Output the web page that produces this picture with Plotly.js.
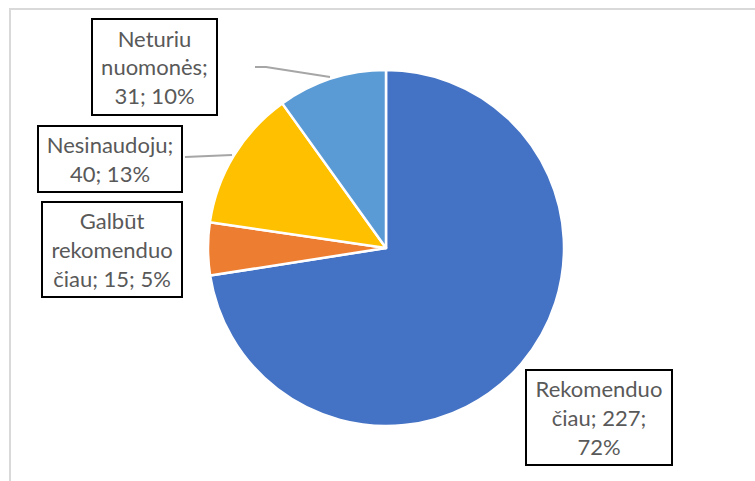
<!DOCTYPE html>
<html>
<head>
<meta charset="utf-8">
<script src="https://cdn.plot.ly/plotly-3.0.1.min.js"></script>
<style>html,body{margin:0;padding:0;background:#fff;}#chart{width:755px;height:481px;}</style>
</head>
<body>
<div id="chart"></div>
<script>
const categories = ["Rekomenduočiau", "Galbūt rekomenduočiau", "Nesinaudoju", "Neturiu nuomonės"];
const values = [227, 15, 40, 31];
const percents = [72, 5, 13, 10];
const labelTexts = [
  "Rekomenduo<br>čiau; 227;<br>72%",
  "Galbūt<br>rekomenduo<br>čiau; 15; 5%",
  "Nesinaudoju;<br>40; 13%",
  "Neturiu<br>nuomonės;<br>31; 10%"
];
const colors = ["#4472C4", "#ED7D31", "#FFC000", "#5B9BD5"];

const W = 755, H = 481;
const px = x => x / W;
const py = y => 1 - y / H;

// label box layout: [centerX, centerY, width, height]
const boxes = [
  [599, 417.5, 148, 97],
  [112, 249.5, 142, 97],
  [110, 159, 146, 68],
  [154.5, 67, 127, 98]
];

const annotations = labelTexts.map((t, i) => ({
  x: px(boxes[i][0]), y: py(boxes[i][1]), xref: 'paper', yref: 'paper',
  xanchor: 'center', yanchor: 'middle', showarrow: false,
  text: t, align: 'center',
  width: boxes[i][2] - 8, height: boxes[i][3] - 8,
  borderpad: 2, borderwidth: 2, bordercolor: '#000000', bgcolor: '#ffffff',
  font: {family: 'Lato, "Liberation Sans", sans-serif', size: 22, color: '#595959'}
}));

const leader = (pts) => ({
  type: 'path', xref: 'paper', yref: 'paper',
  path: 'M' + pts.map(p => px(p[0]) + ',' + py(p[1])).join(' L'),
  line: {color: '#A6A6A6', width: 2}
});

const shapes = [
  {type: 'rect', xref: 'paper', yref: 'paper', x0: px(10), x1: px(800), y0: py(9), y1: py(520),
   line: {color: '#D9D9D9', width: 2}, fillcolor: 'rgba(0,0,0,0)', layer: 'below'},
  leader([[255, 67], [266, 67], [330, 77]]),
  leader([[185, 157], [232, 155]])
];

const data = [{
  type: 'pie',
  labels: categories,
  values: values,
  sort: false,
  direction: 'clockwise',
  rotation: 0,
  marker: {colors: colors, line: {color: '#ffffff', width: 2.5}},
  textinfo: 'none',
  hoverinfo: 'label+value+percent',
  showlegend: false,
  domain: {x: [px(208), px(564)], y: [py(426), py(70)]}
}];

const layout = {
  width: W, height: H,
  margin: {l: 0, r: 0, t: 0, b: 0},
  paper_bgcolor: '#ffffff',
  showlegend: false,
  annotations: annotations,
  shapes: shapes
};

Plotly.newPlot('chart', data, layout, {displayModeBar: false, staticPlot: true});
</script>
</body>
</html>
